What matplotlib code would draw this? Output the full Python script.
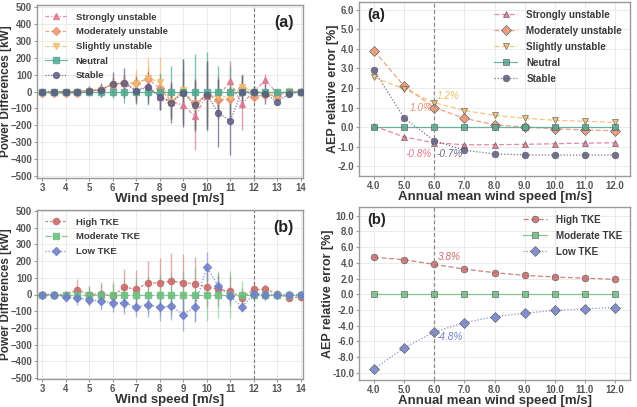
import matplotlib
matplotlib.use("Agg")
import matplotlib.pyplot as plt
import numpy as np

plt.rcParams["font.family"] = ["Liberation Sans", "DejaVu Sans"]

# ---------------- data ----------------
ws = [3, 3.5, 4, 4.5, 5, 5.5, 6, 6.5, 7, 7.5, 8, 8.5, 9, 9.5, 10, 10.5, 11, 11.5, 12, 12.5, 13, 13.5, 14]

su_val = [0, 0, 0, 0, 5, 10, 40, 50, 10, 30, -30, -60, -80, -145, -25, -30, 60, -75, 0, 65, -10, 0, 0]
su_err = [5, 10, 10, 15, 20, 30, 40, 50, 60, 70, 80, 100, 120, 200, 160, 120, 120, 150, 30, 40, 20, 10, 5]
mu_val = [-10, -10, -10, -10, 5, 10, 45, 50, 50, 75, 20, -60, 0, -70, -20, -50, -45, 20, -30, -20, -25, 0, 0]
mu_err = [5, 10, 10, 15, 20, 30, 40, 50, 60, 70, 80, 100, 120, 150, 200, 120, 100, 80, 30, 30, 20, 10, 5]
sl_val = [0, 0, 0, 0, 5, 10, 40, 45, 45, 80, 55, -60, 10, -90, -20, -35, -30, 25, 0, -10, -20, 5, 0]
sl_err = [5, 10, 10, 15, 20, 30, 40, 50, 90, 120, 150, 100, 120, 150, 120, 100, 100, 80, 30, 30, 20, 10, 5]
ne_val = [0] * 23
ne_err = [5, 10, 10, 15, 20, 30, 40, 70, 60, 80, 110, 150, 190, 220, 230, 150, 150, 100, 30, 20, 10, 10, 5]
st_val = [0, 0, 0, 0, 5, 10, 45, 50, 5, 25, -30, -65, -10, -80, -20, -125, -175, 0, 0, -15, -60, -15, 0]
st_err = [10, 10, 15, 20, 30, 40, 70, 90, 80, 90, 80, 120, 200, 150, 200, 200, 200, 100, 30, 60, 20, 15, 5]

hi_val = [0, 0, 0, 25, 0, 5, -10, 45, 30, 70, 70, 80, 70, 65, 45, 30, 20, -20, 30, 30, 5, -20, -15]
hi_err = [5, 10, 20, 70, 50, 60, 70, 110, 115, 130, 150, 170, 170, 160, 120, 100, 90, 60, 40, 30, 20, 10, 10]
mo_val = [0] * 23
mo_err = [5, 10, 20, 40, 50, 75, 80, 90, 100, 110, 120, 130, 140, 160, 160, 140, 140, 80, 30, 40, 20, 10, 5]
lo_val = [0, 0, -15, -20, -30, -40, -50, -50, -75, -60, -75, -70, -120, -75, 165, 50, -10, -75, 5, 0, 0, 0, 0]
lo_err = [5, 10, 30, 40, 40, 50, 55, 65, 60, 75, 85, 85, 100, 90, 90, 60, 40, 30, 20, 15, 10, 10, 5]

aws = [4.0, 5.0, 6.0, 7.0, 8.0, 9.0, 10.0, 11.0, 12.0]
aep_su = [0.05, -0.5, -0.8, -0.9, -0.9, -0.88, -0.85, -0.82, -0.8]
aep_mu = [3.9, 2.1, 1.0, 0.45, 0.12, 0.0, -0.08, -0.15, -0.18]
aep_sl = [2.55, 1.95, 1.25, 0.85, 0.6, 0.45, 0.35, 0.3, 0.25]
aep_ne = [0, 0, 0, 0, 0, 0, 0, 0, 0]
aep_st = [2.9, 0.47, -0.7, -1.18, -1.37, -1.42, -1.43, -1.43, -1.43]

aep_hi = [4.7, 4.4, 3.8, 3.2, 2.75, 2.4, 2.2, 2.05, 1.9]
aep_mo = [0, 0, 0, 0, 0, 0, 0, 0, 0]
aep_lo = [-9.5, -6.8, -4.8, -3.6, -2.85, -2.4, -2.05, -1.85, -1.7]

stab_labels = ["Strongly unstable", "Moderately unstable", "Slightly unstable", "Neutral", "Stable"]
tke_labels = ["High TKE", "Moderate TKE", "Low TKE"]

# ---------------- styles ----------------
C_SU = "#e0758f"
C_MU = "#e8916e"
C_SL = "#f0bd6a"
C_NE = "#4fa890"
C_ST = "#5c5a80"
C_HI = "#c96a6a"
C_MO = "#6cbf7f"
C_LO = "#6f80c8"
TXT = "#3a3a3a"

W, H = 637, 407
fig = plt.figure(figsize=(W / 100, H / 100), dpi=100)

def ax_px(l, t, r, b):
    return fig.add_axes([l / W, 1 - b / H, (r - l) / W, (b - t) / H])

def style(ax):
    ax.set_facecolor("white")
    ax.grid(True, color="#e8e8e8", lw=0.6)
    ax.set_axisbelow(True)
    for s in ax.spines.values():
        s.set_color("#9a9a9a")
        s.set_linewidth(1.0)
    ax.tick_params(length=2, color="#9a9a9a", labelsize=6.9, labelcolor="#555555", pad=1.5)
    for lab in ax.get_xticklabels() + ax.get_yticklabels():
        lab.set_fontweight("bold")

def leg(ax, loc, fs=6.8, spacing=0.55):
    lg = ax.legend(loc=loc, frameon=False, fontsize=fs, handlelength=2.4,
                   labelspacing=spacing, borderaxespad=0.4, handletextpad=0.9)
    for t in lg.get_texts():
        t.set_fontweight("bold")
        t.set_color(TXT)

XL_FS = 9.5

def labels(ax, xl, yl, ylx, yfs):
    # ylx: x position (axes fraction) of the label's right edge
    ax.set_xlabel(xl, fontsize=XL_FS, fontweight="bold", color="#333333", labelpad=0.3)
    ax.set_ylabel(yl, fontsize=yfs, fontweight="bold", color="#333333")
    ax.yaxis.set_label_coords(ylx, 0.5)

# ---------------- top-left ----------------
ax1 = ax_px(37, 5, 303, 178)
series = [
    (su_val, su_err, C_SU, "^", (0, (3, 1.5, 1, 1.5)), stab_labels[0]),
    (mu_val, mu_err, C_MU, "D", (0, (3, 1.5)), stab_labels[1]),
    (sl_val, sl_err, C_SL, "v", (0, (3, 1.5)), stab_labels[2]),
    (ne_val, ne_err, C_NE, "s", "-", stab_labels[3]),
    (st_val, st_err, C_ST, "o", (0, (1, 1.2)), stab_labels[4]),
]
for v, e, c, m, ls, lab in series:
    ax1.errorbar(ws, v, yerr=e, fmt="none", ecolor=c, elinewidth=1.0, alpha=0.7, zorder=2)
for v, e, c, m, ls, lab in series:
    ax1.plot(ws, v, color=c, ls=ls, lw=0.9, marker=m, ms=4.3, mfc=c, mec=c, alpha=0.8,
             label=lab, zorder=3)
ax1.axvline(12, color="#777777", ls=(0, (3, 2)), lw=0.8)
ax1.set_xlim(2.78, 14.1)
ax1.set_ylim(-510, 510)
ax1.set_xticks(range(3, 15))
ax1.set_yticks(range(-500, 501, 100))
style(ax1)
labels(ax1, "Wind speed [m/s]", "Power Differences [kW]", (12.5 - 37) / 266, 8.5)
leg(ax1, "upper left", spacing=0.6)
ax1.text(0.965, 0.94, "(a)", transform=ax1.transAxes, ha="right", va="top",
         fontsize=11.5, fontweight="bold", color="#222222")

# ---------------- bottom-left ----------------
ax3 = ax_px(37, 210, 303, 379)
series_b = [
    (hi_val, hi_err, C_HI, "o", (0, (2, 1.5)), tke_labels[0]),
    (mo_val, mo_err, C_MO, "s", (0, (5, 1.5)), tke_labels[1]),
    (lo_val, lo_err, C_LO, "D", (0, (1, 1.5)), tke_labels[2]),
]
for v, e, c, m, ls, lab in series_b:
    ax3.errorbar(ws, v, yerr=e, fmt="none", ecolor=c, elinewidth=1.0, alpha=0.55, zorder=2)
for v, e, c, m, ls, lab in series_b:
    ax3.plot(ws, v, color=c, ls=ls, lw=0.9, marker=m, ms=4.5, mfc=c, mec=c, alpha=0.85,
             label=lab, zorder=3)
ax3.axvline(12, color="#777777", ls=(0, (3, 2)), lw=0.8)
ax3.set_xlim(2.78, 14.1)
ax3.set_ylim(-505, 505)
ax3.set_xticks(range(3, 15))
ax3.set_yticks(range(-500, 501, 100))
style(ax3)
labels(ax3, "Wind speed [m/s]", "Power Differences [kW]", (12.5 - 37) / 266, 8.5)
leg(ax3, "upper left", spacing=0.6)
ax3.text(0.965, 0.94, "(b)", transform=ax3.transAxes, ha="right", va="top",
         fontsize=11.5, fontweight="bold", color="#222222")

# ---------------- top-right ----------------
ax2 = ax_px(359, 2, 630, 176)
series_r = [
    (aep_su, C_SU, "^", (0, (4, 2)), stab_labels[0], 4.5),
    (aep_mu, C_MU, "D", (0, (4, 2)), stab_labels[1], 5.4),
    (aep_sl, C_SL, "v", (0, (4, 2)), stab_labels[2], 5),
    (aep_ne, C_NE, "s", "-", stab_labels[3], 5),
    (aep_st, C_ST, "o", (0, (1, 1.5)), stab_labels[4], 4.8),
]
for v, c, m, ls, lab, ms in series_r:
    ax2.plot(aws, v, color=c, ls=ls, lw=0.9, marker=m, ms=ms, mfc=c, mec="#555555",
             mew=0.5, alpha=0.85, label=lab)
ax2.axvline(6, color="#888888", ls=(0, (3, 2)), lw=0.9)
ax2.set_xlim(3.5, 12.5)
ax2.set_ylim(-2.5, 6.4)
ax2.set_xticks(aws)
ax2.set_xticklabels([f"{x:.1f}" for x in aws])
ax2.set_yticks(np.arange(-2, 6.1, 1))
ax2.set_yticklabels([f"{y:.1f}" for y in np.arange(-2, 6.1, 1)])
style(ax2)
labels(ax2, "Annual mean wind speed [m/s]", "AEP relative error [%]", (339 - 359) / 271, 9.0)
leg(ax2, "upper right", fs=7.1, spacing=0.6)
ax2.text(0.03, 0.965, "(a)", transform=ax2.transAxes, ha="left", va="top",
         fontsize=10.5, fontweight="bold", color="#222222")
ax2.text(6.08, 1.6, "1.2%", color=C_SL, fontsize=7.2, style="italic", ha="left", va="center")
ax2.text(5.95, 0.98, "1.0%", color=C_MU, fontsize=7.2, style="italic", ha="right", va="center")
ax2.text(5.9, -1.4, "-0.8%", color=C_SU, fontsize=7.2, style="italic", ha="right", va="center")
ax2.text(6.07, -1.4, "-0.7%", color="#6a6888", fontsize=7.2, style="italic", ha="left", va="center")

# ---------------- bottom-right ----------------
ax4 = ax_px(359, 207, 630, 380)
series_r2 = [
    (aep_hi, C_HI, "o", (0, (4, 2)), tke_labels[0], 4.8),
    (aep_mo, C_MO, "s", "-", tke_labels[1], 5),
    (aep_lo, C_LO, "D", (0, (1, 1.5)), tke_labels[2], 5),
]
for v, c, m, ls, lab, ms in series_r2:
    ax4.plot(aws, v, color=c, ls=ls, lw=0.9, marker=m, ms=ms, mfc=c, mec="#555555",
             mew=0.5, alpha=0.85, label=lab)
ax4.axvline(6, color="#888888", ls=(0, (3, 2)), lw=0.9)
ax4.set_xlim(3.5, 12.5)
ax4.set_ylim(-10.9, 11.1)
ax4.set_xticks(aws)
ax4.set_xticklabels([f"{x:.1f}" for x in aws])
yt = np.arange(-10, 10.1, 2)
ax4.set_yticks(yt)
ax4.set_yticklabels([f"{y:.1f}" for y in yt])
style(ax4)
labels(ax4, "Annual mean wind speed [m/s]", "AEP relative error [%]", (334 - 359) / 271, 9.0)
leg(ax4, "upper right", fs=7.1, spacing=0.6)
ax4.text(0.03, 0.965, "(b)", transform=ax4.transAxes, ha="left", va="top",
         fontsize=10.5, fontweight="bold", color="#222222")
ax4.text(6.12, 4.8, "3.8%", color=C_HI, fontsize=7.2, style="italic", ha="left", va="center")
ax4.text(6.07, -5.4, "-4.8%", color=C_LO, fontsize=7.2, style="italic", ha="left", va="center")

fig.savefig("out.png", dpi=100, facecolor="white")
